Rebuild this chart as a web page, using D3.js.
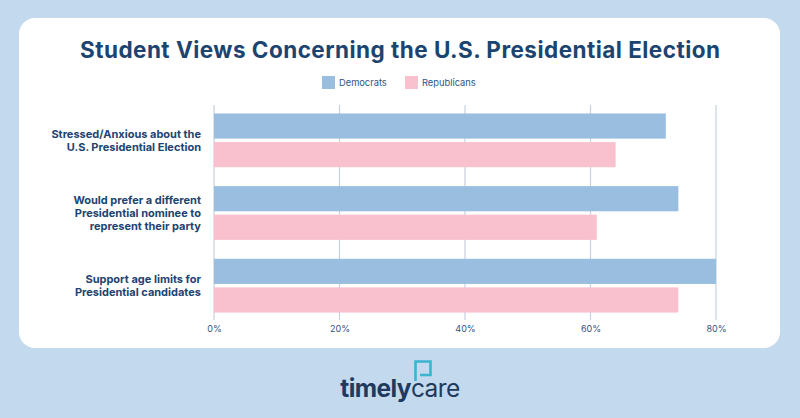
<!DOCTYPE html>
<html>
<head>
    <meta charset="UTF-8">
    <title>Student Views Concerning the U.S. Presidential Election</title>
    <style>
        body { margin: 0; background-color: #c3d9ed; }
        svg { display: block; font-family: Inter, "Noto Sans", sans-serif; }
    </style>
</head>
<body>
    <svg></svg>
    <script src="https://d3js.org/d3.v7.min.js"></script>
    <script>
        // chart data
        let categories = [
            ["Stressed/Anxious about the", "U.S. Presidential Election"],
            ["Would prefer a different", "Presidential nominee to", "represent their party"],
            ["Support age limits for", "Presidential candidates"]
        ];
        let series = ["Democrats", "Republicans"];
        let democrats = [72, 74, 80];
        let republicans = [64, 61, 74];
        let ticks = [0, 20, 40, 60, 80];
        let colors = ["#99bee0", "#f9c1cd"];

        let width = 800, height = 418;
        let navy = "#1c4471";

        let svg = d3.select("svg")
            .attr("width", width)
            .attr("height", height);

        // background + white card
        svg.append("rect").attr("width", width).attr("height", height).attr("fill", "#c3d9ed");
        svg.append("rect")
            .attr("x", 19).attr("y", 18)
            .attr("width", 761).attr("height", 330)
            .attr("rx", 16)
            .attr("fill", "#fff");

        // title
        svg.append("text")
            .attr("x", 400).attr("y", 58)
            .attr("text-anchor", "middle")
            .attr("fill", navy)
            .attr("textLength", 640)
            .attr("lengthAdjust", "spacing")
            .style("font-size", "22.5px")
            .style("font-weight", 700)
            .text("Student Views Concerning the U.S. Presidential Election");

        // legend
        let legendX = [322, 405];
        let legend = svg.append("g");
        series.forEach((s, i) => {
            legend.append("rect")
                .attr("x", legendX[i]).attr("y", 76)
                .attr("width", 13).attr("height", 13)
                .attr("fill", colors[i]);
            legend.append("text")
                .attr("x", legendX[i] + 17).attr("y", 86)
                .attr("fill", "#2f5584")
                .style("font-size", "9.3px")
                .text(s);
        });

        // scales
        let x = d3.scaleLinear().domain([0, 80]).range([214, 716]);
        let y = d3.scaleBand()
            .domain(d3.range(categories.length))
            .range([104, 322])
            .paddingInner(0.26)
            .paddingOuter(0.13);
        let y1 = d3.scaleBand()
            .domain(series)
            .range([0, y.bandwidth()])
            .paddingInner(0.12);

        // gridlines
        svg.append("g")
            .selectAll("line")
            .data(ticks)
            .enter()
            .append("line")
            .attr("x1", d => x(d)).attr("x2", d => x(d))
            .attr("y1", 105).attr("y2", 320)
            .attr("stroke", "#c6d0e0")
            .attr("stroke-width", 1.2);

        // x axis labels
        let xAxis = d3.axisBottom(x)
            .tickValues(ticks)
            .tickFormat(d => d + "%")
            .tickSize(0)
            .tickPadding(0);
        let gx = svg.append("g")
            .attr("transform", "translate(0, 326)")
            .call(xAxis);
        gx.select(".domain").remove();
        gx.selectAll("text")
            .attr("fill", "#2f5584")
            .style("font-family", "Inter, sans-serif")
            .style("font-size", "9px");

        // bars
        let rows = categories.map((c, i) => ({ i: i, values: [democrats[i], republicans[i]] }));
        let groups = svg.append("g")
            .selectAll("g")
            .data(rows)
            .enter()
            .append("g")
            .attr("transform", d => "translate(0," + y(d.i) + ")");

        groups.selectAll("rect")
            .data(d => d.values.map((v, j) => ({ key: series[j], v: v, j: j })))
            .enter()
            .append("rect")
            .attr("x", x(0))
            .attr("y", d => y1(d.key))
            .attr("width", d => x(d.v) - x(0))
            .attr("height", y1.bandwidth())
            .attr("fill", d => colors[d.j]);

        // category labels
        let lineH = 13.2;
        categories.forEach((lines, i) => {
            let cy = y(i) + y.bandwidth() / 2;
            let t = svg.append("text")
                .attr("text-anchor", "end")
                .attr("fill", navy)
                .style("font-size", "11px")
                .style("font-weight", 700);
            lines.forEach((l, k) => {
                t.append("tspan")
                    .attr("x", 201)
                    .attr("y", cy + 4 + (k - (lines.length - 1) / 2) * lineH)
                    .text(l);
            });
        });

        // logo
        let logo = svg.append("text")
            .attr("x", 400).attr("y", 397)
            .attr("text-anchor", "middle")
            .attr("fill", "#1e3a5f")
            .style("font-size", "24.5px")
            .style("letter-spacing", "-0.6px");
        logo.append("tspan").style("font-weight", 700).text("timely");
        logo.append("tspan").style("font-weight", 400).text("care");

        svg.append("path")
            .attr("d", "M415.5,381 L415.5,361.5 L430.5,361.5 L430.5,375 L420,375")
            .attr("fill", "none")
            .attr("stroke", "#3ab4cf")
            .attr("stroke-width", 2.6);
    </script>
</body>
</html>
